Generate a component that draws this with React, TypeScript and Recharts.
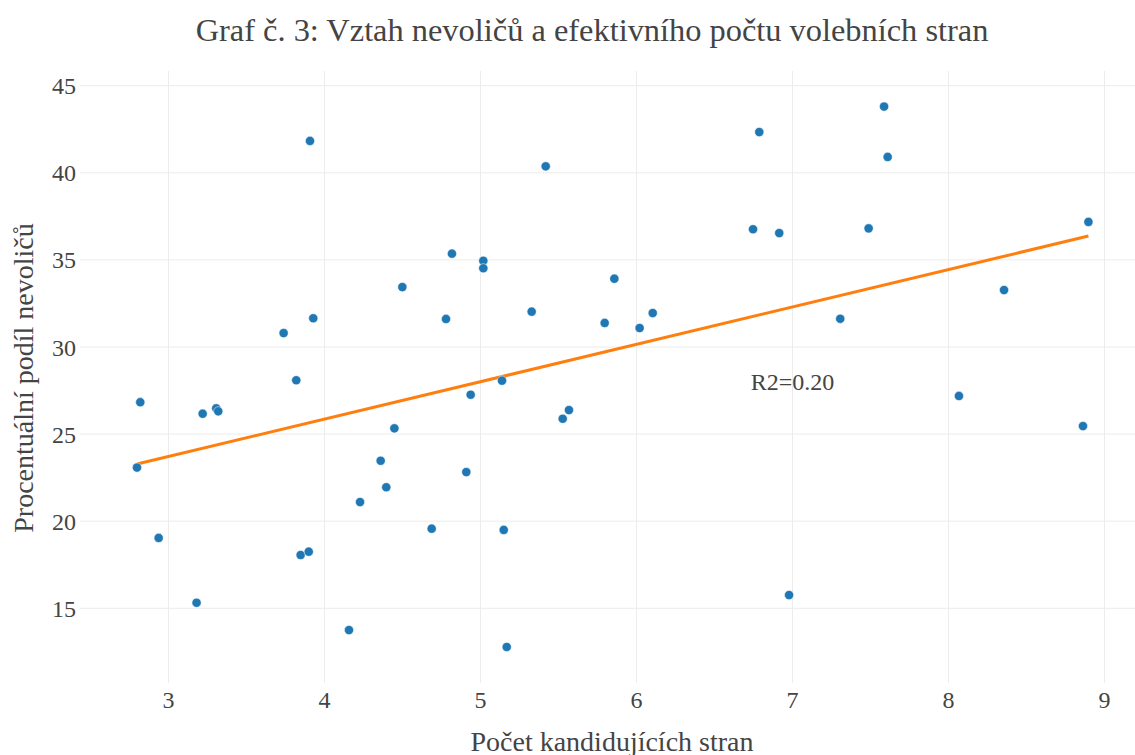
import React from "react";
import {
  ScatterChart,
  Scatter,
  XAxis,
  YAxis,
  CartesianGrid,
  ReferenceDot,
} from "recharts";

// počet kandidujících stran (x) a procentuální podíl nevoličů (y)
const kandidujiciStrany = [
  2.798, 2.819, 2.937, 3.18, 3.219, 3.306, 3.319, 3.738, 3.819, 3.847,
  3.899, 3.907, 3.928, 4.157, 4.228, 4.36, 4.396, 4.448, 4.499, 4.687,
  4.779, 4.817, 4.909, 4.937, 5.018, 5.018, 5.138, 5.149, 5.168, 5.328,
  5.418, 5.527, 5.567, 5.796, 5.858, 6.02, 6.104, 6.747, 6.787, 6.915,
  6.978, 7.306, 7.488, 7.587, 7.61, 8.067, 8.356, 8.862, 8.897,
];
const podilNevolicu = [
  23.08, 26.83, 19.04, 15.32, 26.17, 26.48, 26.31, 30.8, 28.09, 18.06,
  18.25, 41.83, 31.65, 13.75, 21.1, 23.47, 21.95, 25.33, 33.44, 19.57,
  31.61, 35.36, 22.82, 27.26, 34.95, 34.52, 28.07, 19.5, 12.78, 32.03,
  40.37, 25.88, 26.38, 31.38, 33.92, 31.09, 31.95, 36.76, 42.34, 36.54,
  15.76, 31.62, 36.81, 43.8, 40.91, 27.19, 33.27, 25.46, 37.18,
];

// regresní přímka (krajní body)
const trendX = [2.798, 8.897];
const trendY = [23.28, 36.37];

const xTicks = [3, 4, 5, 6, 7, 8, 9];
const yTicks = [15, 20, 25, 30, 35, 40, 45];

const points = kandidujiciStrany.map((x, i) => ({ x, y: podilNevolicu[i] }));
const trend = trendX.map((x, i) => ({ x, y: trendY[i] }));

const FONT = "'Liberation Serif', 'Times New Roman', serif";
const TEXT = "#444";

const Dot = (props: any) => (
  <circle cx={props.cx} cy={props.cy} r={4.6} fill="#1f77b4" stroke="#fff" strokeWidth={0.5} />
);

const XTick = (props: any) => (
  <text x={props.x} y={props.y} dy="0.71em" textAnchor="middle" fill={TEXT} style={{ fontSize: 24, fontFamily: FONT }}>
    {props.payload.value}
  </text>
);

const YTick = (props: any) => (
  <text x={props.x} y={props.y} dy="0.355em" textAnchor="end" fill={TEXT} style={{ fontSize: 24, fontFamily: FONT }}>
    {props.payload.value}
  </text>
);

const css = `
body{margin:0}
.recharts-wrapper text, .recharts-surface text { font-family: 'Liberation Serif', 'Times New Roman', serif !important; }
`;

export default function App() {
  return (
    <div style={{ position: "relative", width: 1135, height: 755, fontFamily: FONT, color: TEXT }}>
      <style>{css}</style>
      <div
        style={{
          position: "absolute",
          left: 0,
          top: 14,
          width: 1184,
          textAlign: "center",
          fontSize: 32.4,
          lineHeight: "32px",
          whiteSpace: "nowrap",
        }}
      >
        Graf č. 3: Vztah nevoličů a efektivního počtu volebních stran
      </div>
      <ScatterChart
        width={1135}
        height={755}
        margin={{ top: 71, right: 0, bottom: 0, left: 0 }}
        style={{ fontFamily: FONT }}
      >
        <CartesianGrid stroke="#ececec" strokeWidth={1} syncWithTicks />
        <XAxis
          type="number"
          dataKey="x"
          domain={[2.4327, 9.1955]}
          ticks={xTicks}
          allowDataOverflow
          height={72}
          axisLine={false}
          tickLine={false}
          tickSize={0}
          tickMargin={8}
          tick={(p: any) => <XTick {...p} />}
        />
        <YAxis
          type="number"
          dataKey="y"
          domain={[10.712, 45.844]}
          ticks={yTicks}
          allowDataOverflow
          width={80}
          axisLine={false}
          tickLine={false}
          tickSize={0}
          tickMargin={4}
          tick={(p: any) => <YTick {...p} />}
        />
        <Scatter
          data={trend}
          line={{ stroke: "#ff7f0e", strokeWidth: 3 }}
          shape={() => <g />}
          isAnimationActive={false}
        />
        <Scatter data={points} shape={Dot} isAnimationActive={false} />
        <ReferenceDot
          x={7}
          y={28}
          r={0}
          fill="none"
          stroke="none"
          label={{ value: "R2=0.20", position: "center", fill: TEXT, fontSize: 24 }}
        />
      </ScatterChart>
      <div
        style={{
          position: "absolute",
          left: 412,
          top: 728,
          width: 400,
          textAlign: "center",
          fontSize: 28,
          lineHeight: "28px",
          whiteSpace: "nowrap",
        }}
      >
        Počet kandidujících stran
      </div>
      <div
        style={{
          position: "absolute",
          left: 24 - 200,
          top: 378 - 14,
          width: 400,
          height: 28,
          textAlign: "center",
          fontSize: 28,
          lineHeight: "28px",
          whiteSpace: "nowrap",
          transform: "rotate(-90deg)",
        }}
      >
        Procentuální podíl nevoličů
      </div>
    </div>
  );
}
